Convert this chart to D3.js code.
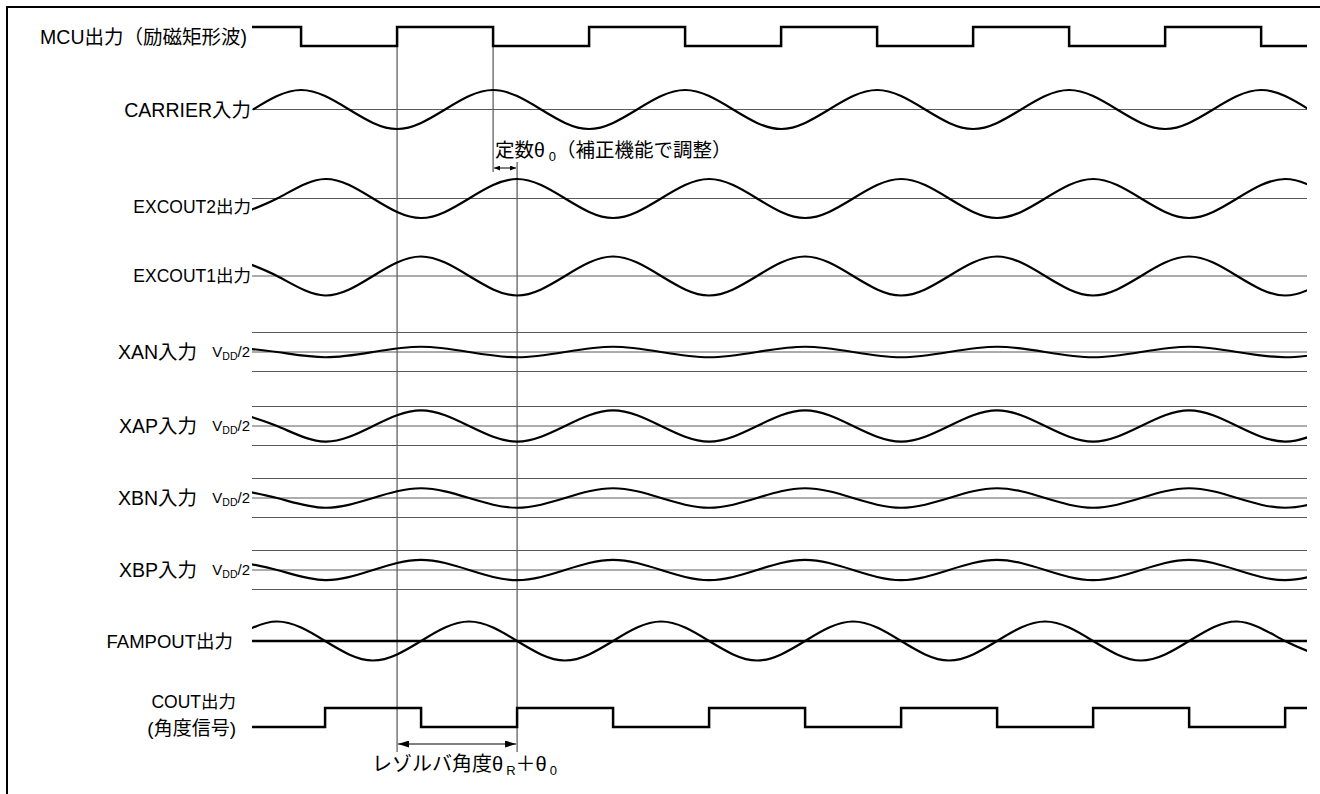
<!DOCTYPE html>
<html><head><meta charset="utf-8">
<script src="https://cdn.jsdelivr.net/npm/d3@7/dist/d3.min.js"></script>
<style>
html,body{margin:0;padding:0;background:#fff;}
svg{display:block;}
text{font-family:"Liberation Sans","Noto Sans CJK JP",sans-serif;fill:#000;}
</style></head><body>
<svg id="chart" width="1320" height="794"></svg>
<script>
// ---------------- data (excitation phase in degrees) ----------------
const phaseDomain = [-92, 1886];
const degA = [-90,0,90,180,270,360,450,540,630,720,810,900,990,1080,1170,1260,1350,1440,1530,1620,1710,1800,1890];
const degB = [-135,-45,45,135,225,315,405,495,585,675,765,855,945,1035,1125,1215,1305,1395,1485,1575,1665,1755,1845,1935];

const carrierVal = [0,1,0,-1,0,1,0,-1,0,1,0,-1,0,1,0,-1,0,1,0,-1,0,1,0];
const excout2Val = [-1,0,1,0,-1,0,1,0,-1,0,1,0,-1,0,1,0,-1,0,1,0,-1,0,1,0];
const excout1Val = [1,0,-1,0,1,0,-1,0,1,0,-1,0,1,0,-1,0,1,0,-1,0,1,0,-1,0];
const xanVal = [0.27,0,-0.27,0,0.27,0,-0.27,0,0.27,0,-0.27,0,0.27,0,-0.27,0,0.27,0,-0.27,0,0.27,0,-0.27,0];
const xapVal = [0.8,0,-0.8,0,0.8,0,-0.8,0,0.8,0,-0.8,0,0.8,0,-0.8,0,0.8,0,-0.8,0,0.8,0,-0.8,0];
const xbnVal = [0.5,0,-0.5,0,0.5,0,-0.5,0,0.5,0,-0.5,0,0.5,0,-0.5,0,0.5,0,-0.5,0,0.5,0,-0.5,0];
const xbpVal = [0.52,0,-0.52,0,0.52,0,-0.52,0,0.52,0,-0.52,0,0.52,0,-0.52,0,0.52,0,-0.52,0,0.52,0,-0.52,0];
const fampoutVal = [0,1,0,-1,0,1,0,-1,0,1,0,-1,0,1,0,-1,0,1,0,-1,0,1,0,-1];

const mcuDeg = [-92,0,180,360,540,720,900,1080,1260,1440,1620,1800,1886];
const mcuLevel = [1,0,1,0,1,0,1,0,1,0,1,0,0];
const coutDeg = [-92,45,225,405,585,765,945,1125,1305,1485,1665,1845,1886];
const coutLevel = [0,1,0,1,0,1,0,1,0,1,0,1,1];

const refLevels = [-1, 0, 1];
const markerDeg = {carrierTrough:180, carrierPeak:360, shifted:405};

const labels = {
  mcu:"MCU出力（励磁矩形波)", carrier:"CARRIER入力", excout2:"EXCOUT2出力", excout1:"EXCOUT1出力",
  xan:"XAN入力", xap:"XAP入力", xbn:"XBN入力", xbp:"XBP入力", fampout:"FAMPOUT出力",
  cout1:"COUT出力", cout2:"(角度信号)"
};

// ---------------- layout ----------------
const svg = d3.select("#chart");
const x = d3.scaleLinear().domain(phaseDomain).range([252, 1307]);
const X0 = x(phaseDomain[0]), X1 = x(phaseDomain[1]);
const ampPx = 19.5;
const yTrack = c => d3.scaleLinear().domain([-1,1]).range([c+ampPx, c-ampPx]);

const defs = svg.append("defs");
defs.append("clipPath").attr("id","clip")
  .append("rect").attr("x",X0).attr("y",0).attr("width",X1-X0).attr("height",794);

function mk(id, w, h, rev){
  const m = defs.append("marker").attr("id",id).attr("viewBox",`0 0 ${w} ${h}`)
    .attr("refX", rev?0:w).attr("refY",h/2).attr("markerWidth",w).attr("markerHeight",h)
    .attr("markerUnits","userSpaceOnUse").attr("orient","auto");
  m.append("path").attr("d", rev?`M${w},0L0,${h/2}L${w},${h}Z`:`M0,0L${w},${h/2}L0,${h}Z`).attr("fill","#000");
}
mk("aEndS",6,5,false); mk("aStartS",6,5,true);
mk("aEndL",11,7,false); mk("aStartL",11,7,true);

// frame
svg.append("path").attr("d","M7,794V7H1320").attr("fill","none").attr("stroke","#000").attr("stroke-width",2);

const g = svg.append("g");
const thin = "#5a5a5a";

function hline(y, w, col){ g.append("line").attr("x1",X0).attr("x2",X1).attr("y1",y).attr("y2",y)
  .attr("stroke",col||thin).attr("stroke-width",w||1); }

function wave(degs, vals, c, sw){
  const ys = yTrack(c);
  const pts = degs.map((d,i)=>[d, vals[i]]);
  g.append("path").attr("clip-path","url(#clip)")
    .attr("d", d3.line().x(d=>x(d[0])).y(d=>ys(d[1])).curve(d3.curveNatural)(pts))
    .attr("fill","none").attr("stroke","#000").attr("stroke-width",sw||2.2);
}
function digital(degs, levels, yHi, yLo){
  const ys = d3.scaleLinear().domain([0,1]).range([yLo,yHi]);
  const pts = degs.map((d,i)=>[d, levels[i]]);
  g.append("path").attr("d", d3.line().x(d=>x(d[0])).y(d=>ys(d[1])).curve(d3.curveStepAfter)(pts))
    .attr("fill","none").attr("stroke","#000").attr("stroke-width",2.5);
}
function label(txt, xr, y, size){
  g.append("text").attr("x",xr).attr("y",y).attr("text-anchor","end").attr("dominant-baseline","central")
    .style("font-size",size+"px").text(txt);
}
function vdd(xr, y){
  const t = g.append("text").attr("x",xr).attr("y",y+5).attr("text-anchor","end").style("font-size","15px");
  t.append("tspan").text("V");
  t.append("tspan").attr("dy",3).style("font-size","10.5px").text("DD");
  t.append("tspan").attr("dy",-3).text("/2");
}

// vertical guide lines
const vcol = "#333";
g.append("line").attr("x1",x(markerDeg.carrierTrough)).attr("x2",x(markerDeg.carrierTrough)).attr("y1",27).attr("y2",752).attr("stroke",vcol).attr("stroke-width",1);
g.append("line").attr("x1",x(markerDeg.carrierPeak)).attr("x2",x(markerDeg.carrierPeak)).attr("y1",27).attr("y2",172).attr("stroke",vcol).attr("stroke-width",1);
g.append("line").attr("x1",x(markerDeg.shifted)).attr("x2",x(markerDeg.shifted)).attr("y1",162).attr("y2",752).attr("stroke",vcol).attr("stroke-width",1);

// MCU
digital(mcuDeg, mcuLevel, 27, 46);
label(labels.mcu, 247, 37, 19.5);

// CARRIER
hline(109.5); wave(degA, carrierVal, 109.5);
label(labels.carrier, 251, 110, 19.5);

// EXCOUT2
hline(198.5); wave(degB, excout2Val, 198.5);
label(labels.excout2, 251, 207, 17.5);

// EXCOUT1
hline(276); wave(degB, excout1Val, 276);
label(labels.excout1, 251, 276, 17.5);

// X inputs
[[labels.xan, xanVal, 352],[labels.xap, xapVal, 426],[labels.xbn, xbnVal, 498],[labels.xbp, xbpVal, 570]]
.forEach(([lab, vals, c])=>{
  const ys = yTrack(c);
  refLevels.forEach(l=>hline(ys(l)));
  wave(degB, vals, c);
  label(lab, 197, c, 19.5);
  vdd(250, c);
});

// FAMPOUT
hline(641, 2.5, "#000"); wave(degB, fampoutVal, 641);
label(labels.fampout, 233, 641, 18.5);

// COUT
digital(coutDeg, coutLevel, 708, 727);
label(labels.cout1, 236, 702, 17.5);
label(labels.cout2, 236, 728, 19);

// theta0 annotation
g.append("line").attr("x1",x(markerDeg.carrierPeak)+1).attr("x2",x(markerDeg.shifted)-1).attr("y1",168).attr("y2",168)
  .attr("stroke","#000").attr("stroke-width",1).attr("marker-start","url(#aStartS)").attr("marker-end","url(#aEndS)");
const t0 = g.append("text").attr("x",495).attr("y",157).style("font-size","19.5px");
t0.append("tspan").text("定数θ");
t0.append("tspan").attr("dx",4).attr("dy",4).style("font-size","13px").text("0");
t0.append("tspan").attr("dy",-4).text("（補正機能で調整）");

// resolver angle arrow
g.append("line").attr("x1",x(markerDeg.carrierTrough)+1).attr("x2",x(markerDeg.shifted)-1).attr("y1",744).attr("y2",744)
  .attr("stroke","#000").attr("stroke-width",1).attr("marker-start","url(#aStartL)").attr("marker-end","url(#aEndL)");
const t1 = g.append("text").attr("x",372).attr("y",771).style("font-size","20px");
t1.append("tspan").text("レゾルバ角度θ");
t1.append("tspan").attr("dx",3).attr("dy",4).style("font-size","13px").text("R");
t1.append("tspan").attr("dy",-4).text("＋θ");
t1.append("tspan").attr("dx",3).attr("dy",4).style("font-size","13px").text("0");
</script>
</body></html>
